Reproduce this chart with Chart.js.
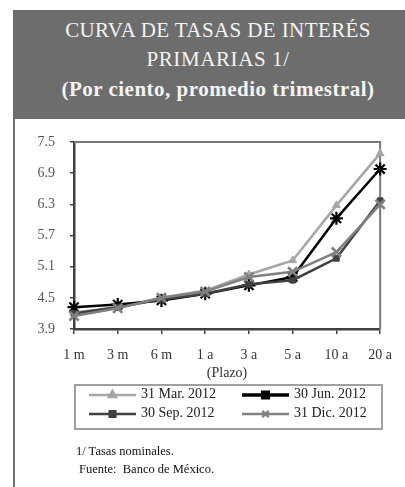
<!DOCTYPE html>
<html>
<head>
<meta charset="utf-8">
<script src="https://cdn.jsdelivr.net/npm/chart.js@4.4.1/dist/chart.umd.min.js"></script>
<style>
  html, body { margin:0; padding:0; background:#fff; width:405px; height:487px; overflow:hidden; position:relative; font-family:"Liberation Serif","DejaVu Serif",serif; }
  #frame { position:absolute; left:13px; top:10px; width:2px; height:477px; background:#6f6f6f; }
  #header { position:absolute; left:13px; top:10px; width:392px; height:109px; background:#6d6d6d; color:#f4f4f4; }
  .hl { position:absolute; left:0; width:410px; text-align:center; white-space:nowrap; font-family:"Liberation Serif",serif; }
  #wrap { position:absolute; left:0; top:0; width:405px; height:487px; }
  .note { position:absolute; font-size:12.5px; color:#111; white-space:nowrap; }
</style>
</head>
<body>
<div id="frame"></div>
<div id="header">
  <div class="hl" style="top:8px;font-size:21px;letter-spacing:0.4px;">CURVA DE TASAS DE INTERÉS</div>
  <div class="hl" style="top:37px;font-size:21px;letter-spacing:0.6px;">PRIMARIAS 1/</div>
  <div class="hl" style="top:67px;font-size:21px;font-weight:bold;letter-spacing:0.5px;">(Por ciento, promedio trimestral)</div>
</div>
<div id="wrap"><canvas id="c" width="405" height="487"></canvas></div>
<div class="note" style="left:76px;top:444px;">1/ Tasas nominales.</div>
<div class="note" style="left:79px;top:462px;">Fuente:&nbsp; Banco de México.</div>
<script>
const categories = ["1 m", "3 m", "6 m", "1 a", "3 a", "5 a", "10 a", "20 a"];
const seriesNames = ["31 Mar. 2012", "30 Jun. 2012", "30 Sep. 2012", "31 Dic. 2012"];
const mar2012 = [4.22, 4.32, 4.50, 4.64, 4.95, 5.22, 6.28, 7.28];
const jun2012 = [4.32, 4.37, 4.45, 4.58, 4.74, 4.90, 6.03, 6.98];
const sep2012 = [4.20, 4.32, 4.47, 4.58, 4.76, 4.84, 5.26, 6.37];
const dic2012 = [4.15, 4.30, 4.50, 4.62, 4.90, 5.00, 5.38, 6.30];
const yTicks = [3.9, 4.5, 5.1, 5.7, 6.3, 6.9, 7.5];

const styles = [
  { color: "#a6a6a6", pointStyle: "triangle", radius: 4.5, bw: 1, order: 3 },
  { color: "#000000", pointStyle: "star", radius: 6.5, bw: 2.2, order: 2 },
  { color: "#404040", pointStyle: "rect", radius: 4, bw: 1, order: 1 },
  { color: "#808080", pointStyle: "crossRot", radius: 6.5, bw: 2.6, order: 0 }
];
const values = [mar2012, jun2012, sep2012, dic2012];

const datasets = values.map((v, i) => ({
  label: seriesNames[i],
  data: v,
  borderColor: styles[i].color,
  backgroundColor: styles[i].color,
  pointBackgroundColor: styles[i].color,
  pointBorderColor: styles[i].color,
  pointStyle: styles[i].pointStyle,
  pointRadius: styles[i].radius,
  pointBorderWidth: styles[i].bw,
  borderWidth: 2.5,
  tension: 0,
  order: styles[i].order
}));

const frameLines = {
  id: "frameLines",
  beforeDatasetsDraw(chart) {
    const { ctx, chartArea: a } = chart;
    ctx.save();
    ctx.strokeStyle = "#7a7a7a";
    ctx.lineWidth = 2;
    ctx.beginPath();
    ctx.moveTo(a.left, a.top);
    ctx.lineTo(a.right, a.top);
    ctx.lineTo(a.right, a.bottom);
    ctx.stroke();
    ctx.restore();
  }
};

const boxLegend = {
  id: "boxLegend",
  afterDraw(chart) {
    const { ctx } = chart;
    ctx.save();
    ctx.strokeStyle = "#a0a0a0";
    ctx.lineWidth = 2;
    ctx.strokeRect(75, 385, 307, 44);
    const colX = [89, 242];
    const rowY = [395, 414];
    ctx.font = "14px 'Liberation Serif', serif";
    ctx.textBaseline = "middle";
    ctx.textAlign = "left";
    chart.data.datasets.forEach((ds, i) => {
      const x = colX[i % 2], y = rowY[Math.floor(i / 2)];
      ctx.strokeStyle = ds.borderColor;
      ctx.fillStyle = ds.borderColor;
      ctx.lineWidth = i === 1 ? 3.5 : 2.5;
      ctx.beginPath();
      ctx.moveTo(x, y);
      ctx.lineTo(x + 47, y);
      ctx.stroke();
      Chart.helpers.drawPoint(ctx, {
        pointStyle: i === 1 ? "rect" : ds.pointStyle,
        radius: i === 3 ? 4.5 : 4,
        borderWidth: i === 3 ? 2.6 : 1,
        rotation: 0
      }, x + 23.5, y);
      ctx.fillStyle = "#222";
      ctx.fillText(ds.label, x + 52, y - 1);
    });
    ctx.restore();
  }
};

new Chart(document.getElementById("c"), {
  type: "line",
  data: { labels: categories, datasets },
  options: {
    responsive: false,
    animation: false,
    events: [],
    layout: { padding: { left: 0, top: 142, right: 16, bottom: 0 } },
    plugins: { legend: { display: false }, tooltip: { enabled: false }, title: { display: false } },
    scales: {
      x: {
        type: "category",
        offset: false,
        afterFit(s) { s.height = 158; },
        grid: { display: true, drawOnChartArea: false, drawTicks: true, tickLength: 5, color: "#404040", lineWidth: 1.5 },
        border: { display: true, color: "#404040", width: 2.5 },
        ticks: { color: "#333", padding: 13, maxRotation: 0, autoSkip: false, font: { family: "'Liberation Serif', serif", size: 14 } },
        title: { display: true, text: "(Plazo)", color: "#333", font: { family: "'Liberation Serif', serif", size: 14 }, padding: { top: 0, bottom: 105 } }
      },
      y: {
        min: 3.9,
        max: 7.5,
        afterFit(s) { s.width = 74; },
        afterBuildTicks(s) { s.ticks = yTicks.map(v => ({ value: v })); },
        grid: { display: true, drawOnChartArea: false, drawTicks: true, tickLength: 4, color: "#404040", lineWidth: 1.5 },
        border: { display: true, color: "#404040", width: 2.5 },
        ticks: { color: "#555", padding: 15, font: { family: "'Liberation Serif', serif", size: 14 }, callback: v => Number(v).toFixed(1) }
      }
    }
  },
  plugins: [frameLines, boxLegend]
});
</script>
</body>
</html>
